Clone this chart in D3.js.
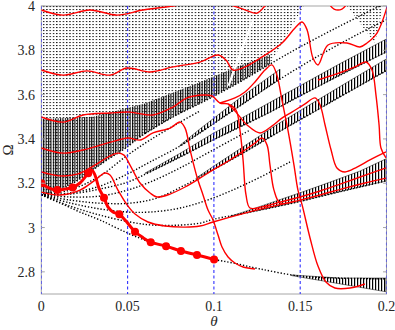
<!DOCTYPE html>
<html>
<head>
<meta charset="utf-8">
<script src="https://cdn.jsdelivr.net/npm/d3@7"></script>
<style>
  body { margin: 0; background: #fff; }
  svg { display: block; }
  text { font-family: "Liberation Serif", "DejaVu Serif", serif; fill: #262626; }
</style>
</head>
<body>
<svg width="395" height="330"></svg>
<script>
var w = 395, h = 330;

var thetaTicks = [0, 0.05, 0.1, 0.15, 0.2];
var thetaLabels = ["0", "0.05", "0.1", "0.15", "0.2"];
var omegaTicks = [2.8, 3, 3.2, 3.4, 3.6, 3.8, 4];
var omegaLabels = ["2.8", "3", "3.2", "3.4", "3.6", "3.8", "4"];

// black dotted branches [theta, Omega]
var f1 = [[0,3.147],[0.0108,3.111],[0.0224,3.070],[0.034,3.034],[0.05,2.975],[0.0634,2.934],[0.0723,2.916],[0.0809,2.894],[0.0902,2.876],[0.1001,2.856],[0.1111,2.84],[0.1267,2.813],[0.1499,2.781],[0.1731,2.772],[0.1997,2.768]];
var f2 = [[0,3.147],[0.0166,3.097],[0.034,3.056],[0.0514,3.025],[0.0647,3.011],[0.0804,3.011],[0.0919,3.02],[0.1001,3.038],[0.118,3.065],[0.1325,3.088],[0.1511,3.12],[0.1673,3.151],[0.1847,3.183],[0.1997,3.21]];
var x1 = [[0,3.147],[0.0108,3.169],[0.0195,3.205],[0.0282,3.251],[0.0381,3.305],[0.0497,3.363],[0.0572,3.409],[0.0763,3.499],[0.0959,3.576],[0.1151,3.657],[0.1325,3.738],[0.1499,3.815],[0.1731,3.910],[0.1962,4.0]];
var x2 = [[0,3.147],[0.0166,3.151],[0.034,3.174],[0.05,3.205],[0.063,3.251],[0.0804,3.318],[0.0995,3.395],[0.1151,3.454],[0.1325,3.521],[0.1499,3.594],[0.1731,3.688],[0.1997,3.792]];
var x3 = [[0,3.147],[0.0166,3.124],[0.034,3.11],[0.0514,3.11],[0.067,3.133],[0.0833,3.192],[0.0995,3.26],[0.118,3.341],[0.1366,3.427],[0.1557,3.512],[0.176,3.603],[0.1997,3.707]];
var g1 = [[0,3.147],[0.0166,3.169],[0.034,3.233],[0.05,3.327],[0.063,3.395],[0.0804,3.476],[0.0919,3.526]];
var g3 = [[0,3.147],[0.0166,3.156],[0.034,3.187],[0.05,3.242],[0.063,3.296],[0.0804,3.368],[0.0919,3.427],[0.1151,3.549],[0.1383,3.670],[0.1615,3.779],[0.1847,3.878],[0.1997,3.937]];
var g4 = [[0,3.147],[0.0166,3.138],[0.034,3.142],[0.05,3.169],[0.063,3.205],[0.0804,3.269],[0.0995,3.350],[0.1209,3.440]];
var g5 = [[0,3.147],[0.0166,3.111],[0.034,3.084],[0.05,3.070],[0.063,3.070],[0.0804,3.088],[0.0995,3.133],[0.1209,3.205],[0.1441,3.296]];
var gap = [[0.1227,3.937],[0.1150,3.78],[0.1085,3.64]];

// dense bands: upper edge, lower edge
var contTop = [[0,4.03],[0.152,4.03],[0.152,4.0]];
var hatchTop = [[0,3.49],[0.03,3.5],[0.06,3.56],[0.09,3.65],[0.115,3.73],[0.1325,3.78]];
var g3Top = [[0.0804,3.372],[0.0919,3.445],[0.1151,3.585],[0.1383,3.715]];
var x2Top = [[0.06,3.245],[0.0804,3.335],[0.0995,3.425],[0.1151,3.49],[0.1325,3.565],[0.1499,3.64],[0.1731,3.74],[0.1997,3.85]];
var x3Top = [[0.09,3.225],[0.0995,3.275],[0.118,3.37],[0.1366,3.465],[0.1557,3.555],[0.176,3.65],[0.1997,3.76]];
var b3Top = [[0.1093,3.05],[0.1267,3.095],[0.1511,3.16],[0.1673,3.205],[0.1847,3.255],[0.1997,3.31]];
var lowTop = [[0.145,2.786],[0.1731,2.772],[0.1997,2.772]];
var lowBottom = [[0.145,2.783],[0.17,2.75],[0.1997,2.71]];
var cornerDots = [[0.1771,4.0],[0.198,4.0],[0.1933,3.833]];

// red branches
var r1 = [[0,3.982],[0.0126,3.959],[0.0282,3.982],[0.0439,3.959],[0.0589,3.982],[0.0763,4.0],[0.0861,4.014],[0.1006,4.018],[0.1093,4.005],[0.1169,3.986],[0.125,3.968],[0.1296,4.0],[0.1336,4.023]];
var r1b = [[0.1661,4.018],[0.1696,3.986],[0.1742,3.986],[0.1777,4.018]];
var r2 = [[0,3.711],[0.0126,3.688],[0.0265,3.707],[0.0398,3.688],[0.0497,3.72],[0.063,3.702],[0.0763,3.725],[0.0919,3.747],[0.1024,3.779],[0.107,3.756],[0.1111,3.711],[0.1181,3.725],[0.1279,3.77],[0.1395,3.833],[0.147,3.901],[0.1511,3.928],[0.154,3.892],[0.1574,3.765],[0.1603,3.734],[0.1661,3.824],[0.1771,3.833],[0.1846,3.815],[0.1887,3.833],[0.1945,3.878],[0.2003,3.995]];
var r3 = [[0,3.499],[0.0126,3.476],[0.0242,3.508],[0.0398,3.517],[0.0514,3.521],[0.0647,3.508],[0.0763,3.544],[0.0844,3.585],[0.0937,3.598],[0.0989,3.594],[0.1035,3.562],[0.1082,3.558],[0.1128,3.530],[0.1151,3.440],[0.1169,3.305],[0.1186,3.147],[0.1209,3.088],[0.1279,3.093],[0.1383,3.115],[0.1499,3.138],[0.1615,3.165],[0.1731,3.196],[0.1847,3.228],[0.1997,3.269]];
var r4 = [[0,3.359],[0.0126,3.336],[0.0242,3.350],[0.0381,3.381],[0.0502,3.404],[0.0572,3.395],[0.0647,3.427],[0.0746,3.449],[0.0804,3.476],[0.0833,3.449],[0.0862,3.350],[0.0902,3.228],[0.0937,3.147],[0.0966,3.079],[0.0995,3.034],[0.1024,2.966],[0.1047,2.912],[0.1082,2.867],[0.1122,2.840],[0.1169,2.822],[0.1238,2.813]];
var r5 = [[0,3.251],[0.0108,3.233],[0.0213,3.242],[0.0311,3.282],[0.0386,3.318],[0.0444,3.336],[0.0479,3.327],[0.0514,3.282],[0.0572,3.201],[0.063,3.156],[0.067,3.138],[0.0746,3.151],[0.0833,3.183],[0.0919,3.223],[0.0995,3.260],[0.1093,3.305],[0.118,3.350],[0.1238,3.381],[0.1279,3.404],[0.1308,3.372],[0.1325,3.282],[0.1348,3.169],[0.1383,3.111],[0.147,3.120]];
var r6 = [[0,3.160],[0.0108,3.147],[0.0224,3.169],[0.0311,3.214],[0.0369,3.246],[0.0398,3.237],[0.0444,3.169],[0.0497,3.102],[0.0543,3.061],[0.0618,3.025],[0.0717,3.007],[0.0833,3.002],[0.0919,3.007],[0.0995,3.025],[0.118,3.065],[0.1325,3.093],[0.1499,3.124],[0.1615,3.147],[0.1759,3.178],[0.1875,3.201],[0.1997,3.223]];
var r7 = [[0.1603,3.666],[0.1673,3.684],[0.1742,3.702],[0.1817,3.725],[0.1881,3.747],[0.1916,3.711],[0.1939,3.598],[0.1957,3.463],[0.1968,3.359],[0.1997,3.314]];
var r8 = [[0.1035,3.562],[0.1122,3.585],[0.118,3.612],[0.1238,3.657],[0.1296,3.711],[0.1336,3.734],[0.1365,3.688],[0.1394,3.576],[0.1429,3.440],[0.1464,3.282],[0.1487,3.169],[0.1511,3.102],[0.1557,2.953],[0.1603,2.826],[0.1649,2.754],[0.1701,2.727],[0.1789,2.727],[0.1875,2.745]];
var rX2 = [[0.1082,3.558],[0.1128,3.521],[0.1192,3.463],[0.1267,3.427],[0.1336,3.458],[0.1394,3.494],[0.1452,3.521],[0.1528,3.558],[0.1586,3.585],[0.1615,3.553],[0.1644,3.463],[0.1679,3.350],[0.1713,3.269],[0.1759,3.251],[0.1829,3.273],[0.1904,3.305],[0.1997,3.341]];

// highlighted branch and its markers
var main = [[0,3.200],[0.0045,3.178],[0.0093,3.169],[0.0137,3.174],[0.0182,3.181],[0.0224,3.201],[0.0272,3.245],[0.0292,3.260],[0.0311,3.237],[0.0334,3.178],[0.0363,3.135],[0.0386,3.093],[0.0415,3.070],[0.0452,3.060],[0.0485,3.034],[0.0543,2.981],[0.0584,2.957],[0.0634,2.934],[0.0723,2.916],[0.0809,2.894],[0.0902,2.876],[0.1001,2.856]];
var mainMarks = [[0,3.200],[0.0093,3.169],[0.0182,3.181],[0.0272,3.245],[0.0363,3.135],[0.0452,3.060],[0.0543,2.981],[0.0634,2.934],[0.0723,2.916],[0.0809,2.894],[0.0902,2.876],[0.1001,2.856]];

var x = d3.scaleLinear().domain([0, 0.2]).range([41.3, 386.5]);
var y = d3.scaleLinear().domain([2.7, 4]).range([294, 6]);

var svg = d3.select("svg");
var defs = svg.append("defs");

defs.append("clipPath").attr("id", "plot")
  .append("rect")
  .attr("x", x(0)).attr("y", y(4))
  .attr("width", x(0.2) - x(0)).attr("height", y(2.7) - y(4));

var dots = defs.append("pattern").attr("id", "dots")
  .attr("patternUnits", "userSpaceOnUse").attr("width", 3.3).attr("height", 3);
dots.append("rect").attr("width", 1.4).attr("height", 1.1).attr("fill", "#1a1a1a");

// tight stripes for the continuum foot, looser ones for the bands
var hatch = defs.append("pattern").attr("id", "hatch")
  .attr("patternUnits", "userSpaceOnUse").attr("width", 2.4).attr("height", 2);
hatch.append("rect").attr("width", 1.1).attr("height", 2).attr("fill", "#000");

var stripes = defs.append("pattern").attr("id", "stripes")
  .attr("patternUnits", "userSpaceOnUse").attr("width", 3).attr("height", 2);
stripes.append("rect").attr("width", 1.2).attr("height", 2).attr("fill", "#000");

var smooth = d3.line().x(function(d){ return x(d[0]); }).y(function(d){ return y(d[1]); })
  .curve(d3.curveCatmullRom.alpha(0.5));
var straight = d3.line().x(function(d){ return x(d[0]); }).y(function(d){ return y(d[1]); })
  .curve(d3.curveLinearClosed);

// upper edge then lower edge walked back
function band(top, bottom){
  return top.concat(bottom.slice().reverse());
}
function upTo(pts, t){
  return pts.filter(function(d){ return d[0] <= t; });
}
function from(pts, t){
  return pts.filter(function(d){ return d[0] >= t; });
}
function between(pts, a, b){
  return pts.filter(function(d){ return d[0] >= a && d[0] <= b; });
}

// box
var axisCol = "#a6a6a6";
svg.append("rect")
  .attr("x", x(0)).attr("y", y(4))
  .attr("width", x(0.2) - x(0)).attr("height", y(2.7) - y(4))
  .attr("fill", "none").attr("stroke", axisCol).attr("stroke-width", 1);

var plot = svg.append("g").attr("clip-path", "url(#plot)");

// continuum
plot.append("path")
  .attr("d", straight(band(contTop, upTo(x1, 0.1325))))
  .attr("fill", "url(#dots)");
plot.append("path")
  .attr("d", straight(band(hatchTop, upTo(x1, 0.1325))))
  .attr("fill", "url(#hatch)");
plot.append("path")
  .attr("d", smooth(gap))
  .attr("fill", "none").attr("stroke", "#fff").attr("stroke-width", 2.2);
plot.append("path").attr("d", straight(cornerDots)).attr("fill", "url(#dots)");

// hatched bands
[[g3Top, between(g3, 0.08, 0.1383)], [x2Top, from(x2, 0.06)], [x3Top, from(x3, 0.0995)], [b3Top, from(f2, 0.1093)], [lowTop, lowBottom]]
  .forEach(function(b){
    plot.append("path")
      .attr("d", straight(band(b[0], b[1])))
      .attr("fill", "url(#stripes)")
      .attr("stroke", "#000").attr("stroke-width", 0.5);
  });

// dotted branches
[f1, f2, x1, x2, x3, g1, g3, g4, g5].forEach(function(c){
  plot.append("path")
    .attr("d", smooth(c))
    .attr("fill", "none")
    .attr("stroke", "#000")
    .attr("stroke-width", 1.4)
    .attr("stroke-dasharray", "1.3,1.9");
});

// blue guides
plot.selectAll("line.guide")
  .data(thetaTicks)
  .enter().append("line")
  .attr("class", "guide")
  .attr("x1", function(d){ return x(d); }).attr("x2", function(d){ return x(d); })
  .attr("y1", y(4)).attr("y2", y(2.7))
  .attr("stroke", "#2f2fff").attr("stroke-width", 1.1)
  .attr("stroke-dasharray", "3,2.5");

// red branches
[r1, r1b, r2, r3, r4, r5, r6, r7, r8, rX2].forEach(function(c){
  plot.append("path")
    .attr("d", smooth(c))
    .attr("fill", "none")
    .attr("stroke", "#ff0000")
    .attr("stroke-width", 1.4);
});

plot.append("path")
  .attr("d", smooth(main))
  .attr("fill", "none")
  .attr("stroke", "#ff0000")
  .attr("stroke-width", 3);

plot.selectAll("circle")
  .data(mainMarks)
  .enter().append("circle")
  .attr("cx", function(d){ return x(d[0]); })
  .attr("cy", function(d){ return y(d[1]); })
  .attr("r", 4)
  .attr("fill", "#ff0000");

// ticks, inward on both sides
omegaTicks.forEach(function(t){
  svg.append("line").attr("x1", x(0)).attr("x2", x(0) + 3.5)
    .attr("y1", y(t)).attr("y2", y(t)).attr("stroke", axisCol);
  svg.append("line").attr("x1", x(0.2)).attr("x2", x(0.2) - 3.5)
    .attr("y1", y(t)).attr("y2", y(t)).attr("stroke", axisCol);
});

svg.selectAll("text.ylab")
  .data(omegaTicks)
  .enter().append("text")
  .attr("class", "ylab")
  .attr("x", 35)
  .attr("y", function(d){ return y(d) + 5; })
  .attr("text-anchor", "end")
  .attr("font-size", 14)
  .text(function(d, i){ return omegaLabels[i]; });

svg.selectAll("text.xlab")
  .data(thetaTicks)
  .enter().append("text")
  .attr("class", "xlab")
  .attr("x", function(d){ return x(d); })
  .attr("y", 311)
  .attr("text-anchor", "middle")
  .attr("font-size", 14)
  .text(function(d, i){ return thetaLabels[i]; });

svg.append("text")
  .attr("x", x(0.1)).attr("y", 326)
  .attr("text-anchor", "middle")
  .attr("font-size", 15)
  .attr("font-style", "italic")
  .text("θ");

svg.append("text")
  .attr("transform", "translate(13," + y(3.35) + ") rotate(-90)")
  .attr("text-anchor", "middle")
  .attr("font-size", 15)
  .text("Ω");
</script>
</body>
</html>
